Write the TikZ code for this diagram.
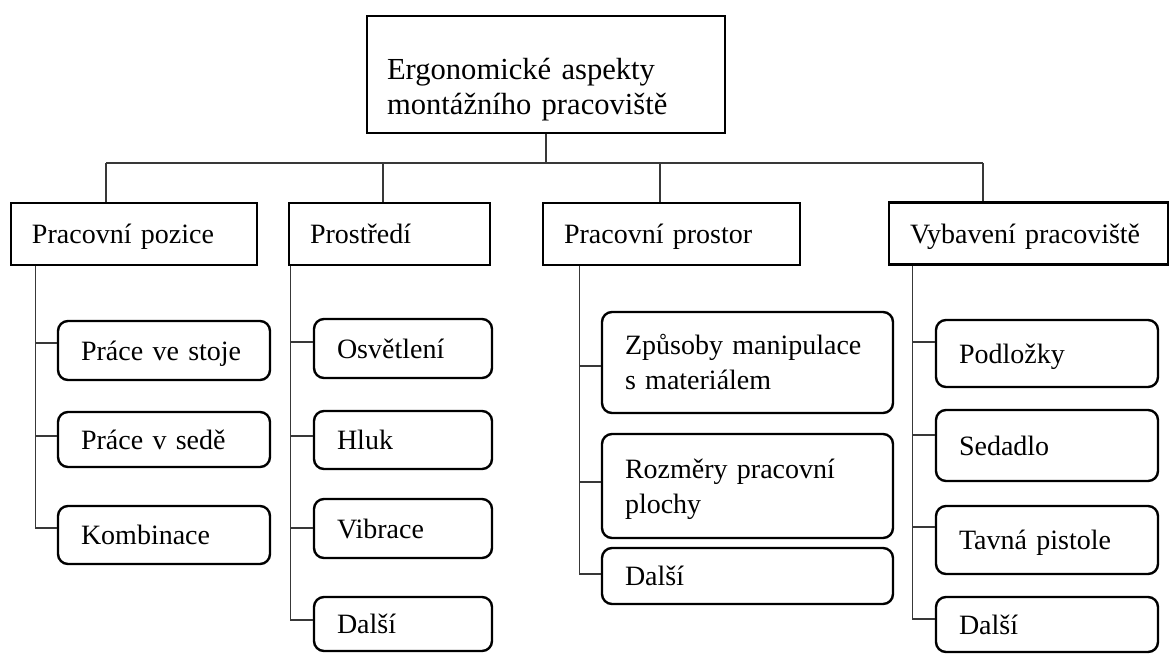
\documentclass[tikz,border=0pt]{standalone}
\usepackage{fontspec}
\setmainfont{Liberation Serif}
\usetikzlibrary{calc}
\newcommand\mystrut{\rule[-0.25em]{0pt}{1.18em}}
\begin{document}
\begin{tikzpicture}[x=0.5pt,y=-0.5pt,
  conn/.style={draw=black!78, line width=0.55pt},
  sz/.style n args={3}{minimum width=#1pt, minimum height=#2pt, text width=#3pt},
  topbox/.style={draw, line width=1.4pt, rectangle, inner xsep=10pt, inner ysep=0pt, align=left,
    font=\fontsize{15.3}{17.5}\selectfont,
    execute at begin node={\rule{0pt}{26.6pt}}, execute at end node={\rule[-3.8pt]{0pt}{0pt}}},
  lvlbox/.style={draw, line width=1.4pt, rectangle, inner xsep=10.5pt, inner ysep=0pt, align=left,
    font=\fontsize{14}{15.5}\selectfont,
    execute at begin node=\mystrut, execute at end node=\mystrut},
  itembox/.style={draw, line width=1.2pt, rounded corners=5pt, inner xsep=11.5pt, inner ysep=0pt, align=left,
    font=\fontsize{14}{15.5}\selectfont,
    execute at begin node=\mystrut, execute at end node=\mystrut}]
\useasboundingbox (0,0) rectangle (1171,653);

% root
\node[topbox, sz={179}{58.5}{159}] (top) at (546,74.5) {Ergonomické aspekty\\montážního pracoviště};

% level 1
\node[lvlbox, sz={123}{31}{102}] (A) at (134,234) {Pracovní pozice};
\node[lvlbox, sz={100.5}{31}{79.5}] (B) at (389.5,234) {Prostředí};
\node[lvlbox, sz={128.5}{31}{107.5}] (C) at (671.5,234) {Pracovní prostor};
\node[lvlbox, sz={139.5}{31}{118.5}] (D) at (1028.5,233.5) {Vybavení pracoviště};

% column A
\node[itembox, sz={106}{29.5}{83}] (a1) at (164,350.5) {Práce ve stoje};
\node[itembox, sz={106}{27.5}{83}] (a2) at (164,439.5) {Práce v sedě};
\node[itembox, sz={106}{29}{83}] (a3) at (164,535) {Kombinace};

% column B
\node[itembox, sz={89}{29.5}{66}] (b1) at (403,348.5) {Osvětlení};
\node[itembox, sz={89}{29}{66}] (b2) at (403,440) {Hluk};
\node[itembox, sz={89}{29.5}{66}] (b3) at (403,528.5) {Vibrace};
\node[itembox, sz={89}{27}{66}] (b4) at (403,624) {Další};

% column C
\node[itembox, sz={145.5}{50.5}{122.5}] (c1) at (747.5,362.5) {Způsoby manipulace\\s materiálem};
\node[itembox, sz={145.5}{52}{122.5}] (c2) at (747.5,486) {Rozměry pracovní\\plochy};
\node[itembox, sz={145.5}{28}{122.5}] (c3) at (747.5,576) {Další};

% column D
\node[itembox, sz={111}{33.5}{88}] (d1) at (1047,353.5) {Podložky};
\node[itembox, sz={111}{35.5}{88}] (d2) at (1047,445.5) {Sedadlo};
\node[itembox, sz={111}{34}{88}] (d3) at (1047,540) {Tavná pistole};
\node[itembox, sz={111}{27.5}{88}] (d4) at (1047,624.5) {Další};

% bus from root
\coordinate (busL) at (106,163);
\coordinate (busR) at (983,163);
\coordinate (jB) at (383,163);
\coordinate (jC) at (660,163);
\draw[conn] (top.south) -- (top.south |- busL);
\draw[conn] (busL) -- (busR);
\draw[conn] (busL) -- (busL |- A.north);
\draw[conn] (jB) -- (jB |- B.north);
\draw[conn] (jC) -- (jC |- C.north);
\draw[conn] (busR) -- (busR |- D.north);

% vertical spines
\coordinate (vA) at ([xshift=13pt]A.south west);
\coordinate (vB) at ([xshift=1.5pt]B.south west);
\coordinate (vC) at ([xshift=19pt]C.south west);
\coordinate (vD) at ([xshift=12.5pt]D.south west);

\draw[conn] ([yshift=3.75pt]a1.west) -| (vA);
\draw[conn] ([yshift=1.75pt]a2.west) -| (vA);
\draw[conn] ([yshift=3.5pt]a3.west) -| (vA);

\draw[conn] ([yshift=3.25pt]b1.west) -| (vB);
\draw[conn] ([yshift=2pt]b2.west) -| (vB);
\draw[conn] ([yshift=0.25pt]b3.west) -| (vB);
\draw[conn] ([yshift=2pt]b4.west) -| (vB);

\draw[conn] ([yshift=-1.75pt]c1.west) -| (vC);
\draw[conn] ([yshift=2pt]c2.west) -| (vC);
\draw[conn] ([yshift=1pt]c3.west) -| (vC);

\draw[conn] ([yshift=5.75pt]d1.west) -| (vD);
\draw[conn] ([yshift=5.25pt]d2.west) -| (vD);
\draw[conn] ([yshift=6.5pt]d3.west) -| (vD);
\draw[conn] ([yshift=2.75pt]d4.west) -| (vD);
\end{tikzpicture}
\end{document}
